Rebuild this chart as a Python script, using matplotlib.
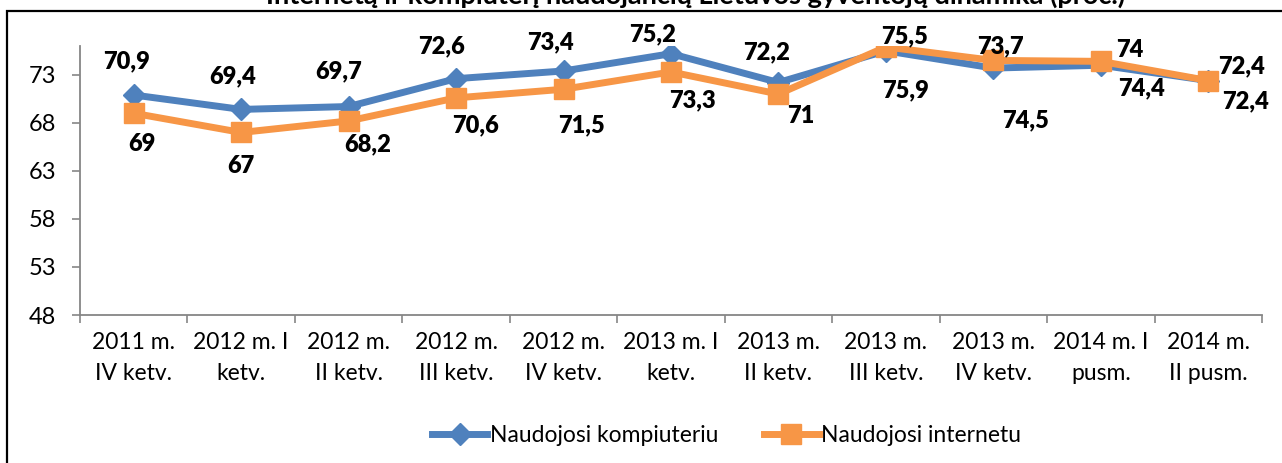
import matplotlib.pyplot as plt
from matplotlib.patches import Rectangle

# duomenys
kategorijos = ["2011 m.\nIV ketv.", "2012 m. I\nketv.", "2012 m.\nII ketv.", "2012 m.\nIII ketv.",
               "2012 m.\nIV ketv.", "2013 m. I\nketv.", "2013 m.\nII ketv.", "2013 m.\nIII ketv.",
               "2013 m.\nIV ketv.", "2014 m. I\npusm.", "2014 m.\nII pusm."]
kompiuteris = [70.9, 69.4, 69.7, 72.6, 73.4, 75.2, 72.2, 75.5, 73.7, 74.0, 72.4]
internetas = [69.0, 67.0, 68.2, 70.6, 71.5, 73.3, 71.0, 75.9, 74.5, 74.4, 72.4]
y_ticks = [48, 53, 58, 63, 68, 73]

# etikeciu poslinkiai (pikseliais)
komp_dx = [-7, -8, -10, -15, -13, -18, -12, 19, 7, 29, 33]
komp_dy = [34, 33, 35, 32, 29, 19, 30, 14, 22, 15, 14]
int_dx = [8, 0, 19, 19, 18, 21, 22, 20, 32, 41, 37]
int_dy = [-31, -34, -23, -27, -36, -28, -22, -43, -60, -27, -21]

plt.rcParams['font.family'] = ['Lato', 'DejaVu Sans']

W, H = 1282, 463
fig = plt.figure(figsize=(W / 100, H / 100), dpi=100)
ax = fig.add_axes([80 / W, 1 - 315 / H, (1262 - 80) / W, (315 - 46) / H])

x = list(range(len(kategorijos)))
ax.plot(x, kompiuteris, color="#4F81BD", lw=5, marker="D", ms=11,
        label="Naudojosi kompiuteriu", zorder=3)
ax.plot(x, internetas, color="#F79646", lw=5, marker="s", ms=15,
        label="Naudojosi internetu", zorder=4)

def fmt(v):
    return f"{v:g}".replace(".", ",")

for i in x:
    ax.annotate(fmt(kompiuteris[i]), (i, kompiuteris[i]), xytext=(komp_dx[i], komp_dy[i]),
                textcoords="offset pixels", ha="center", va="center",
                fontsize=17, fontweight="heavy", zorder=6, annotation_clip=False)
    ax.annotate(fmt(internetas[i]), (i, internetas[i]), xytext=(int_dx[i], int_dy[i]),
                textcoords="offset pixels", ha="center", va="center",
                fontsize=17, fontweight="heavy", zorder=6, annotation_clip=False)

ax.set_xlim(-0.5, len(kategorijos) - 0.5)
ax.set_ylim(48, 76)
ax.set_yticks(y_ticks)
ax.set_xticks(x)
ax.set_xticklabels(kategorijos, fontsize=16.5, linespacing=1.6)
ax.set_xticks([i - 0.5 for i in range(len(kategorijos) + 1)], minor=True)
ax.tick_params(axis="x", which="major", length=0, pad=12)
ax.tick_params(axis="x", which="minor", length=6, color="#868686", width=1.2, direction="out")
ax.tick_params(axis="y", length=6, color="#868686", width=1.2, labelsize=17, pad=11)

for s in ["top", "right"]:
    ax.spines[s].set_visible(False)
for s in ["left", "bottom"]:
    ax.spines[s].set_color("#868686")
    ax.spines[s].set_linewidth(1.3)

ax.legend(loc="center", bbox_to_anchor=(0.567, 1 - 436 / H), bbox_transform=fig.transFigure,
          ncol=2, frameon=False, fontsize=16.5, handlelength=2.4, handletextpad=0.1,
          columnspacing=2.0)

# remelis ir antraste
fig.patches.append(Rectangle((7 / W, -0.1), 1.2, 1 - 11 / H + 0.1, transform=fig.transFigure,
                             fill=False, edgecolor="black", lw=1.6))
fig.text(696 / W, 1 - 4 / H, "Internetą ir kompiuterį naudojančių Lietuvos gyventojų dinamika (proc.)",
         ha="center", va="baseline", fontsize=19.5, fontweight="bold")

fig.savefig("out.png", dpi=100)
